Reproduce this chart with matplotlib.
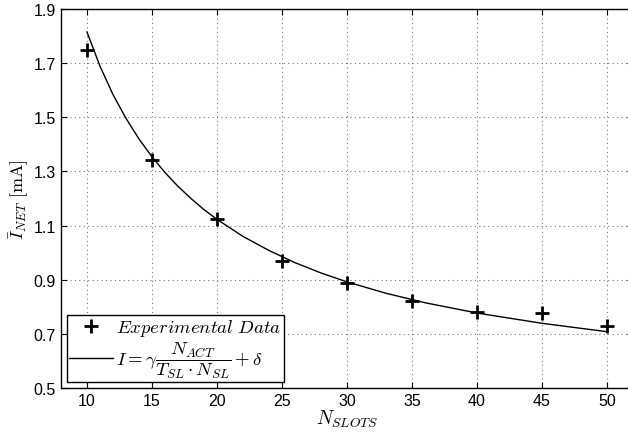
import matplotlib
matplotlib.use("Agg")
import matplotlib.pyplot as plt

# measured points
n_slots = [10, 15, 20, 25, 30, 35, 40, 45, 50]
i_net = [1.748, 1.344, 1.126, 0.970, 0.889, 0.823, 0.780, 0.778, 0.730]

# fitted curve
fit_x = [10, 11, 12, 13, 14, 15, 16, 17, 18, 19, 20, 22, 24, 26, 28, 30, 33, 36, 40, 45, 50]
fit_y = [1.815, 1.689, 1.584, 1.496, 1.420, 1.354, 1.296, 1.245, 1.200, 1.159, 1.123,
         1.060, 1.008, 0.963, 0.925, 0.892, 0.850, 0.815, 0.777, 0.739, 0.708]

x_ticks = [10, 15, 20, 25, 30, 35, 40, 45, 50]
y_ticks = [0.5, 0.7, 0.9, 1.1, 1.3, 1.5, 1.7, 1.9]


def main():
    plt.rcParams['font.family'] = ['Liberation Sans', 'DejaVu Sans']
    plt.rcParams['mathtext.fontset'] = 'cm'

    fig = plt.figure(figsize=(6.28, 4.39), dpi=100)
    ax = fig.add_axes([0.0971, 0.1139, 0.9108, 0.8633])

    ax.plot(n_slots, i_net, 'k+', markersize=10, markeredgewidth=2.0,
            label=r'$Experimental\ Data$')
    ax.plot(fit_x, fit_y, 'k-', linewidth=1.0,
            label=r'$I=\gamma\dfrac{N_{ACT}}{T_{SL}\cdot N_{SL}}+\delta$')

    ax.set_xlim(8, 52)
    ax.set_ylim(0.5, 1.9)
    ax.set_xticks(x_ticks)
    ax.set_yticks(y_ticks)
    ax.tick_params(direction='in', top=True, right=True, labelsize=11.5, length=4)
    ax.grid(True, linestyle=(0, (1, 3)), color='#777777', linewidth=0.8)
    for s in ax.spines.values():
        s.set_linewidth(1.0)

    ax.set_xlabel(r'$N_{SLOTS}$', fontsize=14, labelpad=0)
    ax.set_ylabel(r'$\bar{I}_{NET}\ [\mathrm{mA}]$', fontsize=13, labelpad=2)

    leg = ax.legend(loc='lower left', fontsize=13.5, fancybox=False, framealpha=1,
                    edgecolor='k', borderaxespad=0.3, handlelength=2.3,
                    borderpad=0.15, labelspacing=0.05, handletextpad=0.2)
    leg.get_frame().set_linewidth(1.0)

    fig.savefig("out.png", dpi=100)


if __name__ == "__main__":
    main()
